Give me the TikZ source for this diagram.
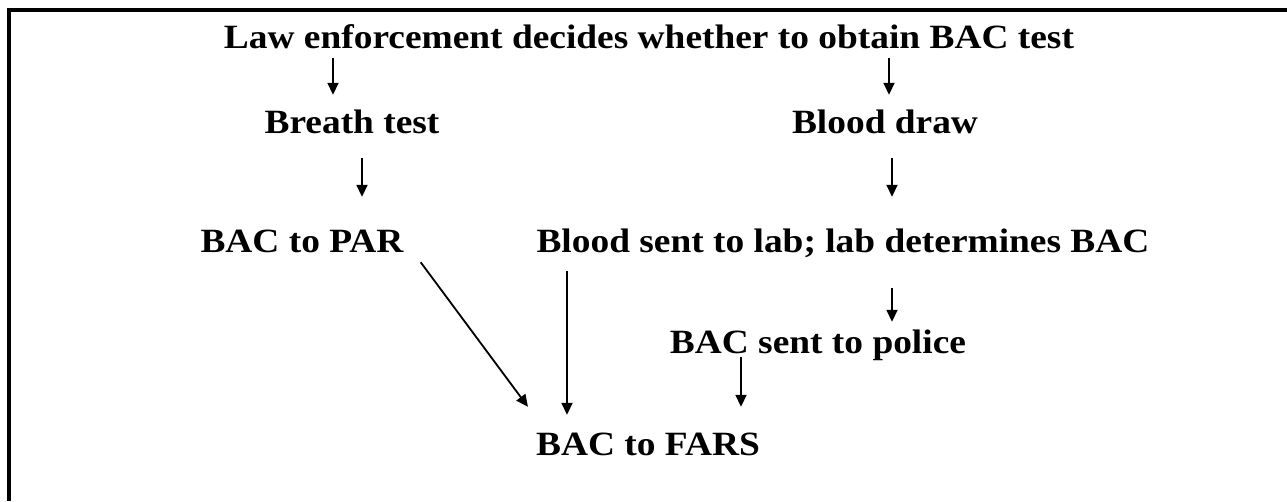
\documentclass[tikz,border=0pt]{standalone}
\usepackage{fontspec}
\setmainfont{Liberation Serif}[FakeStretch=1.1]
\usetikzlibrary{arrows.meta}
\begin{document}
\begin{tikzpicture}[x=1pt, y=1pt, font=\fontsize{34}{40}\selectfont\bfseries, line cap=butt,
  >={Triangle[length=12pt,width=11pt]},
  lbl/.style={inner sep=0pt, anchor=base, text height=24pt, text depth=0pt},
  arr/.style={->, line width=1.8pt}]
\useasboundingbox (0,0) rectangle (1287,-501);
% frame (only top and left sides show)
\draw[line width=4pt, line join=miter] (9,-501) -- (9,-10) -- (1287,-10);
% steps
\node[lbl] (law) at (649,-48) {Law enforcement decides whether to obtain BAC test};
\node[lbl] (breath) at (352,-133) {Breath test};
\node[lbl] (blooddraw) at (885,-133) {Blood draw};
\node[lbl] (bacpar) at (302,-252) {BAC to PAR};
\node[lbl] (lab) at (843,-252) {Blood sent to lab; lab determines BAC};
\node[lbl] (police) at (818,-353) {BAC sent to police};
\node[lbl] (fars) at (648,-455) {BAC to FARS};
% arrows
\draw[arr, shorten <=10pt, shorten >=14pt] ([xshift=-19pt]breath.north |- law.south) -- ([xshift=-19pt]breath.north);
\draw[arr, shorten <=10pt, shorten >=14pt] ([xshift=4pt]blooddraw.north |- law.south) -- ([xshift=4pt]blooddraw.north);
\draw[arr, shorten <=25pt, shorten >=31pt] ([xshift=10pt]breath.south) -- ([xshift=10pt]breath.south |- bacpar.north);
\draw[arr, shorten <=25pt, shorten >=31pt] ([xshift=7pt]blooddraw.south) -- ([xshift=7pt]blooddraw.south |- lab.north);
\draw[arr, shorten <=36pt, shorten >=7pt] ([xshift=74pt]police.north |- lab.south) -- ([xshift=74pt]police.north);
\draw[arr] ([shift={(17pt,-10pt)}]bacpar.south east) -- ([shift={(-8pt,24pt)}]fars.north west);
\draw[arr, shorten <=19pt, shorten >=16pt] ([xshift=-81pt]fars.north |- lab.south) -- ([xshift=-81pt]fars.north);
\draw[arr, shorten <=4pt, shorten >=24pt] ([xshift=-77pt]police.south) -- ([xshift=-77pt]police.south |- fars.north);
\end{tikzpicture}
\end{document}
